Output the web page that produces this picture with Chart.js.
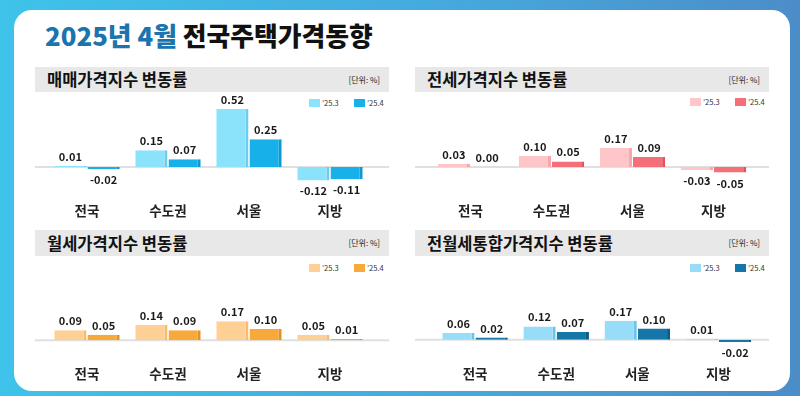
<!DOCTYPE html>
<html><head><meta charset="utf-8">
<script src="https://cdn.jsdelivr.net/npm/chart.js@4.4.1/dist/chart.umd.min.js"></script>
<style>
html,body{margin:0;padding:0;width:800px;height:396px;overflow:hidden;}
body{background:linear-gradient(90deg,#3ec3ea 0%,#45aadd 55%,#4c8dc8 100%);position:relative;font-family:"Noto Sans CJK KR","Noto Sans",sans-serif;}
#card{position:absolute;left:14px;top:10px;width:776px;height:381px;background:#fff;border-radius:18px;}
#title{position:absolute;left:45px;top:18px;font-size:25.8px;font-weight:800;line-height:34px;color:#111;white-space:nowrap;}
#title .b{color:#1b74ad;}
.hdr{position:absolute;background:#e8e8e8;}
.hdr .t{position:absolute;left:12px;top:0;font-size:16.5px;font-weight:700;color:#111;white-space:nowrap;}
.hdr .u{position:absolute;right:9px;top:0;font-size:8px;color:#222;white-space:nowrap;}
.lg{position:absolute;font-size:7.5px;color:#333;white-space:nowrap;line-height:9px;}
.lg i{position:absolute;top:0;width:11px;height:8px;}
.lg span{position:absolute;top:-1px;}
canvas{position:absolute;}
</style></head>
<body>
<div id="card"></div>
<div id="title"><span class="b">2025년 4월</span> 전국주택가격동향</div>
<div id="root"></div>
<script>
const categories = ['전국', '수도권', '서울', '지방'];
const seriesLabels = ['\u201925.3', '\u201925.4'];
const panelTitles = ['매매가격지수 변동률', '전세가격지수 변동률', '월세가격지수 변동률', '전월세통합가격지수 변동률'];
const unitLabel = '[단위: %]';

const saleMar = [0.01, 0.15, 0.52, -0.12];
const saleApr = [-0.02, 0.07, 0.25, -0.11];
const jeonseMar = [0.03, 0.10, 0.17, -0.03];
const jeonseApr = [0.00, 0.05, 0.09, -0.05];
const wolseMar = [0.09, 0.14, 0.17, 0.05];
const wolseApr = [0.05, 0.09, 0.10, 0.01];
const combinedMar = [0.06, 0.12, 0.17, 0.01];
const combinedApr = [0.02, 0.07, 0.10, -0.02];

const panels = [
  {title: panelTitles[0], data: [saleMar, saleApr], x: 35, hy: 67, hh: 25, cy: 92, ch: 131, ymin: -0.285, ymax: 0.6726, padL: 11.5, padR: 18.5,
   fill: ['#8ae2fb', '#18b0e8'], edge: ['#6ccbef', '#0e99d5'], lgx: 309, lgy: 99},
  {title: panelTitles[1], data: [jeonseMar, jeonseApr], x: 415, hy: 67, hh: 25, cy: 92, ch: 131, ymin: -0.285, ymax: 0.6726, padL: 15, padR: 15,
   fill: ['#ffc6ca', '#f56f79'], edge: ['#f7a8ae', '#e4525d'], lgx: 690, lgy: 98},
  {title: panelTitles[2], data: [wolseMar, wolseApr], x: 35, hy: 230, hh: 26, cy: 256, ch: 130, ymin: -0.1938, ymax: 0.7566, padL: 11.5, padR: 18.5,
   fill: ['#ffd095', '#f7a93b'], edge: ['#f6bb70', '#e5911d'], lgx: 309, lgy: 264},
  {title: panelTitles[3], data: [combinedMar, combinedApr], x: 415, hy: 230, hh: 26, cy: 256, ch: 130, ymin: -0.198, ymax: 0.7522, padL: 19.5, padR: 10,
   fill: ['#97ddf8', '#1576a9'], edge: ['#70c2e8', '#0b5d89'], lgx: 690, lgy: 264}
];
const PW = 354;

const zeroLine = {
  id: 'zeroLine',
  beforeDatasetsDraw(chart) {
    const y = chart.scales.y.getPixelForValue(0);
    const c = chart.ctx;
    c.save();
    c.strokeStyle = '#e0e0e0';
    c.lineWidth = 2;
    c.beginPath();
    c.moveTo(0, y); c.lineTo(chart.width, y);
    c.stroke();
    c.restore();
  }
};
const valueLabels = {
  id: 'valueLabels',
  afterDatasetsDraw(chart) {
    const c = chart.ctx;
    c.save();
    c.font = 'bold 11px "Noto Sans CJK KR", "Noto Sans", sans-serif';
    c.fillStyle = '#1a1a1a';
    c.textAlign = 'center';
    c.textBaseline = 'alphabetic';
    chart.data.datasets.forEach((ds, di) => {
      chart.getDatasetMeta(di).data.forEach((bar, i) => {
        const v = ds.data[i];
        const txt = v.toFixed(2);
        if (v >= 0) c.fillText(txt, bar.x, bar.y - 5);
        else c.fillText(txt, bar.x, bar.y + 15);
      });
    });
    c.restore();
  }
};

const root = document.getElementById('root');
panels.forEach((p) => {
  const h = document.createElement('div');
  h.className = 'hdr';
  h.style.cssText = `left:${p.x}px;top:${p.hy}px;width:${PW}px;height:${p.hh}px;`;
  h.innerHTML = `<div class="t" style="line-height:${p.hh}px">${p.title}</div><div class="u" style="line-height:${p.hh}px">${unitLabel}</div>`;
  root.appendChild(h);

  seriesLabels.forEach((lab, k) => {
    const l = document.createElement('div');
    l.className = 'lg';
    l.style.cssText = `left:${p.lgx + k * 45}px;top:${p.lgy}px;width:40px;height:9px;`;
    l.innerHTML = `<i style="left:0;background:${p.fill[k]}"></i><span style="left:13px">${lab}</span>`;
    root.appendChild(l);
  });

  const cv = document.createElement('canvas');
  cv.width = PW; cv.height = p.ch;
  cv.style.left = p.x + 'px'; cv.style.top = p.cy + 'px';
  root.appendChild(cv);

  new Chart(cv, {
    type: 'bar',
    data: {
      labels: categories,
      datasets: p.data.map((d, k) => ({
        label: seriesLabels[k],
        data: d,
        backgroundColor: p.fill[k],
        borderColor: p.edge[k],
        borderWidth: {top: 0, right: 3, bottom: 0, left: 0},
        borderSkipped: false,
        categoryPercentage: 0.82,
        barPercentage: 0.97
      }))
    },
    options: {
      responsive: false,
      animation: false,
      layout: {padding: {left: p.padL, right: p.padR, top: 0, bottom: 0}},
      plugins: {legend: {display: false}, tooltip: {enabled: false}},
      scales: {
        x: {
          grid: {display: false, drawTicks: false},
          border: {display: false},
          ticks: {padding: 4, color: '#222', font: {family: '"Noto Sans CJK KR", sans-serif', size: 13.5, weight: 'bold'}}
        },
        y: {
          display: false,
          min: p.ymin, max: p.ymax
        }
      }
    },
    plugins: [zeroLine, valueLabels]
  });
});
</script>
</body></html>
